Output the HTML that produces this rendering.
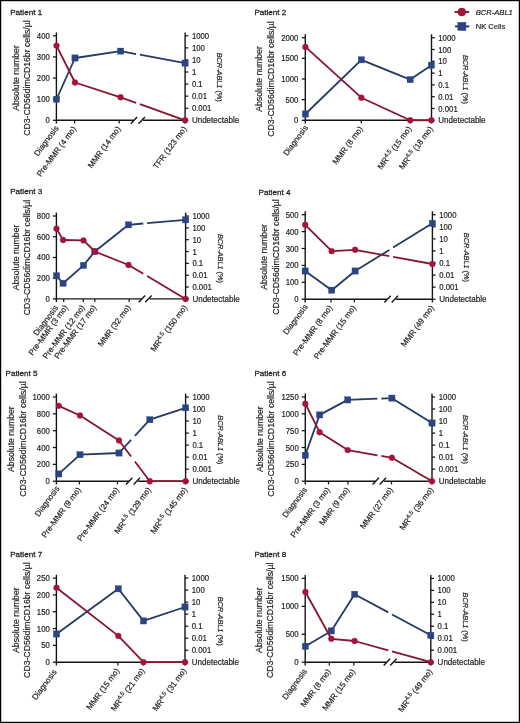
<!DOCTYPE html>
<html lang="en">
<head>
<meta charset="utf-8">
<title>NK cells and BCR-ABL1 by patient</title>
<style>
html,body{margin:0;padding:0;background:#fff;}
body{width:520px;height:723px;overflow:hidden;position:relative;}
svg{display:block;position:absolute;left:0;top:0;font-size:8.0px;}
.t{font-family:"Liberation Sans",Arial,Helvetica,sans-serif;fill:#231f20;stroke:#231f20;stroke-width:0.2px;}
.ax line{stroke:#171415;stroke-width:1.4;}
.ax line.tk{stroke-width:1.25;}
.frame{fill:none;stroke:#000;stroke-width:1.2;}
</style>
</head>
<body>
<svg width="520" height="723" viewBox="0 0 520 723">
<rect x="0" y="0" width="520" height="723" fill="#fff"/>
<g class="panel">
<text class="t" x="10.2" y="14.8" style="font-size:8.1px;stroke-width:0.28px">Patient 1</text>
<g class="ax">
<line x1="56.4" y1="32.4" x2="56.4" y2="123.5"/>
<line x1="185.1" y1="32.4" x2="185.1" y2="123.5"/>
<line x1="55.8" y1="120.3" x2="133.65" y2="120.3"/>
<line x1="142.95" y1="120.3" x2="185.7" y2="120.3"/>
<line x1="130.75" y1="123.65" x2="137.15" y2="116.95"/>
<line x1="138.55" y1="123.65" x2="144.95" y2="116.95"/>
<line class="tk" x1="52.8" y1="120.3" x2="56.4" y2="120.3"/>
<line class="tk" x1="52.8" y1="99.17" x2="56.4" y2="99.17"/>
<line class="tk" x1="52.8" y1="78.05" x2="56.4" y2="78.05"/>
<line class="tk" x1="52.8" y1="56.92" x2="56.4" y2="56.92"/>
<line class="tk" x1="52.8" y1="35.8" x2="56.4" y2="35.8"/>
<line class="tk" x1="185.1" y1="35.8" x2="188.3" y2="35.8"/>
<line class="tk" x1="185.1" y1="47.87" x2="188.3" y2="47.87"/>
<line class="tk" x1="185.1" y1="59.94" x2="188.3" y2="59.94"/>
<line class="tk" x1="185.1" y1="72.01" x2="188.3" y2="72.01"/>
<line class="tk" x1="185.1" y1="84.09" x2="188.3" y2="84.09"/>
<line class="tk" x1="185.1" y1="96.16" x2="188.3" y2="96.16"/>
<line class="tk" x1="185.1" y1="108.23" x2="188.3" y2="108.23"/>
<line class="tk" x1="185.1" y1="120.3" x2="188.3" y2="120.3"/>
<line class="tk" x1="74.6" y1="120.3" x2="74.6" y2="123.5"/>
<line class="tk" x1="119.2" y1="120.3" x2="119.2" y2="123.5"/>
</g>
<text class="t" text-anchor="end" transform="translate(49.8 123.3) scale(0.97 1.08)">0</text>
<text class="t" text-anchor="end" transform="translate(49.8 102.17) scale(0.97 1.08)">100</text>
<text class="t" text-anchor="end" transform="translate(49.8 81.05) scale(0.97 1.08)">200</text>
<text class="t" text-anchor="end" transform="translate(49.8 59.92) scale(0.97 1.08)">300</text>
<text class="t" text-anchor="end" transform="translate(49.8 38.8) scale(0.97 1.08)">400</text>
<text class="t" transform="translate(191.9 38.8) scale(0.97 1.08)">1000</text>
<text class="t" transform="translate(191.9 50.87) scale(0.97 1.08)">100</text>
<text class="t" transform="translate(191.9 62.94) scale(0.97 1.08)">10</text>
<text class="t" transform="translate(191.9 75.01) scale(0.97 1.08)">1</text>
<text class="t" transform="translate(191.9 87.09) scale(0.97 1.08)">0.1</text>
<text class="t" transform="translate(191.9 99.16) scale(0.97 1.08)">0.01</text>
<text class="t" transform="translate(191.9 111.23) scale(0.97 1.08)">0.001</text>
<text class="t" transform="translate(191.9 123.3) scale(1.005 1.08)">Undetectable</text>
<text class="t" text-anchor="middle" style="font-size:8.8px" transform="translate(18.5 78.05) rotate(-90) scale(0.988 1)">Absolute number</text>
<text class="t" text-anchor="middle" style="font-size:8.8px" transform="translate(29.9 78.05) rotate(-90) scale(0.988 1)">CD3-CD56dimCD16br cells/µl</text>
<text class="t" text-anchor="middle" style="font-size:7.8px" transform="translate(217.2 77.25) rotate(90) scale(0.935 1)"><tspan font-style="italic">BCR-ABL1</tspan> (%)</text>
<text class="t" text-anchor="end" style="font-size:8.1px" transform="translate(59.05 128.15) rotate(-53.5)">Diagnosis</text>
<text class="t" text-anchor="end" style="font-size:8.1px" transform="translate(76.5 128.9) rotate(-53.5)">Pre-MMR (4 mo)</text>
<text class="t" text-anchor="end" style="font-size:8.1px" transform="translate(121.1 128.9) rotate(-53.5)">MMR (14 mo)</text>
<text class="t" text-anchor="end" style="font-size:8.1px" transform="translate(187 128.9) rotate(-53.5)">TFR (123 mo)</text>
<g stroke="#243965" stroke-width="1.8" fill="none">
<line x1="56.5" y1="99.25" x2="75" y2="58"/>
<line x1="75" y1="58" x2="120.6" y2="51.15"/>
<line x1="120.6" y1="51.15" x2="136.1" y2="54.02"/>
<line x1="139.9" y1="54.73" x2="185.1" y2="63.1"/>
</g>
<g fill="#2b4583" stroke="#2b4583" stroke-width="0.3">
<rect x="53.35" y="96.1" width="6.3" height="6.3"/>
<rect x="71.85" y="54.85" width="6.3" height="6.3"/>
<rect x="117.45" y="48" width="6.3" height="6.3"/>
<rect x="181.95" y="59.95" width="6.3" height="6.3"/>
</g>
<g stroke="#88142f" stroke-width="1.8" fill="none">
<line x1="56.5" y1="45.6" x2="75" y2="82.5"/>
<line x1="75" y1="82.5" x2="120.6" y2="97.3"/>
<line x1="120.6" y1="97.3" x2="136.1" y2="102.83"/>
<line x1="139.9" y1="104.18" x2="185.1" y2="120.3"/>
</g>
<g fill="#a5123a" stroke="#a5123a" stroke-width="0.3">
<circle cx="56.5" cy="45.6" r="2.95"/>
<circle cx="75" cy="82.5" r="2.95"/>
<circle cx="120.6" cy="97.3" r="2.95"/>
<circle cx="185.1" cy="120.3" r="2.95"/>
</g>
</g>
<g class="panel">
<text class="t" x="254.4" y="14.8" style="font-size:8.1px;stroke-width:0.28px">Patient 2</text>
<g class="ax">
<line x1="305.3" y1="34.3" x2="305.3" y2="123.5"/>
<line x1="431.5" y1="34.3" x2="431.5" y2="123.5"/>
<line x1="304.7" y1="120.3" x2="432.1" y2="120.3"/>
<line class="tk" x1="301.7" y1="120.3" x2="305.3" y2="120.3"/>
<line class="tk" x1="301.7" y1="99.65" x2="305.3" y2="99.65"/>
<line class="tk" x1="301.7" y1="79" x2="305.3" y2="79"/>
<line class="tk" x1="301.7" y1="58.35" x2="305.3" y2="58.35"/>
<line class="tk" x1="301.7" y1="37.7" x2="305.3" y2="37.7"/>
<line class="tk" x1="431.5" y1="37.7" x2="434.7" y2="37.7"/>
<line class="tk" x1="431.5" y1="49.5" x2="434.7" y2="49.5"/>
<line class="tk" x1="431.5" y1="61.3" x2="434.7" y2="61.3"/>
<line class="tk" x1="431.5" y1="73.1" x2="434.7" y2="73.1"/>
<line class="tk" x1="431.5" y1="84.9" x2="434.7" y2="84.9"/>
<line class="tk" x1="431.5" y1="96.7" x2="434.7" y2="96.7"/>
<line class="tk" x1="431.5" y1="108.5" x2="434.7" y2="108.5"/>
<line class="tk" x1="431.5" y1="120.3" x2="434.7" y2="120.3"/>
<line class="tk" x1="361.3" y1="120.3" x2="361.3" y2="123.5"/>
<line class="tk" x1="410" y1="120.3" x2="410" y2="123.5"/>
</g>
<text class="t" text-anchor="end" transform="translate(298.4 123.3) scale(0.97 1.08)">0</text>
<text class="t" text-anchor="end" transform="translate(298.4 102.65) scale(0.97 1.08)">500</text>
<text class="t" text-anchor="end" transform="translate(298.4 82) scale(0.97 1.08)">1000</text>
<text class="t" text-anchor="end" transform="translate(298.4 61.35) scale(0.97 1.08)">1500</text>
<text class="t" text-anchor="end" transform="translate(298.4 40.7) scale(0.97 1.08)">2000</text>
<text class="t" transform="translate(438.3 40.7) scale(0.97 1.08)">1000</text>
<text class="t" transform="translate(438.3 52.5) scale(0.97 1.08)">100</text>
<text class="t" transform="translate(438.3 64.3) scale(0.97 1.08)">10</text>
<text class="t" transform="translate(438.3 76.1) scale(0.97 1.08)">1</text>
<text class="t" transform="translate(438.3 87.9) scale(0.97 1.08)">0.1</text>
<text class="t" transform="translate(438.3 99.7) scale(0.97 1.08)">0.01</text>
<text class="t" transform="translate(438.3 111.5) scale(0.97 1.08)">0.001</text>
<text class="t" transform="translate(438.3 123.3) scale(1.005 1.08)">Undetectable</text>
<text class="t" text-anchor="middle" style="font-size:8.8px" transform="translate(262.1 79) rotate(-90) scale(0.988 1)">Absolute number</text>
<text class="t" text-anchor="middle" style="font-size:8.8px" transform="translate(273.5 79) rotate(-90) scale(0.988 1)">CD3-CD56dimCD16br cells/µl</text>
<text class="t" text-anchor="middle" style="font-size:7.8px" transform="translate(462.8 79.4) rotate(90) scale(0.935 1)"><tspan font-style="italic">BCR-ABL1</tspan> (%)</text>
<text class="t" text-anchor="end" style="font-size:8.1px" transform="translate(308.3 127.8) rotate(-53.5)">Diagnosis</text>
<text class="t" text-anchor="end" style="font-size:8.1px" transform="translate(363.2 128.9) rotate(-53.5)">MMR (8 mo)</text>
<text class="t" text-anchor="end" style="font-size:8.1px" transform="translate(411.9 128.9) rotate(-53.5)">MR<tspan dy="-2.9" style="font-size:6px">4.5</tspan><tspan dy="2.9"> (15 mo)</tspan></text>
<text class="t" text-anchor="end" style="font-size:8.1px" transform="translate(433.4 128.9) rotate(-53.5)">MR<tspan dy="-2.9" style="font-size:6px">4.5</tspan><tspan dy="2.9"> (18 mo)</tspan></text>
<g stroke="#243965" stroke-width="1.8" fill="none">
<line x1="305.4" y1="114" x2="361.4" y2="59.8"/>
<line x1="361.4" y1="59.8" x2="410.2" y2="79.6"/>
<line x1="410.2" y1="79.6" x2="431.4" y2="65.2"/>
</g>
<g fill="#2b4583" stroke="#2b4583" stroke-width="0.3">
<rect x="302.25" y="110.85" width="6.3" height="6.3"/>
<rect x="358.25" y="56.65" width="6.3" height="6.3"/>
<rect x="407.05" y="76.45" width="6.3" height="6.3"/>
<rect x="428.25" y="62.05" width="6.3" height="6.3"/>
</g>
<g stroke="#88142f" stroke-width="1.8" fill="none">
<line x1="305.4" y1="46.9" x2="361.4" y2="97.7"/>
<line x1="361.4" y1="97.7" x2="410.2" y2="120.3"/>
<line x1="410.2" y1="120.3" x2="431.4" y2="120.3"/>
</g>
<g fill="#a5123a" stroke="#a5123a" stroke-width="0.3">
<circle cx="305.4" cy="46.9" r="2.95"/>
<circle cx="361.4" cy="97.7" r="2.95"/>
<circle cx="410.2" cy="120.3" r="2.95"/>
<circle cx="431.4" cy="120.3" r="2.95"/>
</g>
</g>
<g class="panel">
<text class="t" x="10.2" y="194.1" style="font-size:8.1px;stroke-width:0.28px">Patient 3</text>
<g class="ax">
<line x1="56.4" y1="212.6" x2="56.4" y2="302.1"/>
<line x1="185.6" y1="212.6" x2="185.6" y2="302.1"/>
<line x1="55.8" y1="298.9" x2="141.65" y2="298.9"/>
<line x1="149.65" y1="298.9" x2="186.2" y2="298.9"/>
<line x1="138.75" y1="302.25" x2="145.15" y2="295.55"/>
<line x1="145.25" y1="302.25" x2="151.65" y2="295.55"/>
<line class="tk" x1="52.8" y1="298.9" x2="56.4" y2="298.9"/>
<line class="tk" x1="52.8" y1="278.17" x2="56.4" y2="278.17"/>
<line class="tk" x1="52.8" y1="257.45" x2="56.4" y2="257.45"/>
<line class="tk" x1="52.8" y1="236.72" x2="56.4" y2="236.72"/>
<line class="tk" x1="52.8" y1="216" x2="56.4" y2="216"/>
<line class="tk" x1="185.6" y1="216" x2="188.8" y2="216"/>
<line class="tk" x1="185.6" y1="227.84" x2="188.8" y2="227.84"/>
<line class="tk" x1="185.6" y1="239.69" x2="188.8" y2="239.69"/>
<line class="tk" x1="185.6" y1="251.53" x2="188.8" y2="251.53"/>
<line class="tk" x1="185.6" y1="263.37" x2="188.8" y2="263.37"/>
<line class="tk" x1="185.6" y1="275.21" x2="188.8" y2="275.21"/>
<line class="tk" x1="185.6" y1="287.06" x2="188.8" y2="287.06"/>
<line class="tk" x1="185.6" y1="298.9" x2="188.8" y2="298.9"/>
<line class="tk" x1="63.7" y1="298.9" x2="63.7" y2="302.1"/>
<line class="tk" x1="83.3" y1="298.9" x2="83.3" y2="302.1"/>
<line class="tk" x1="94.8" y1="298.9" x2="94.8" y2="302.1"/>
<line class="tk" x1="129.2" y1="298.9" x2="129.2" y2="302.1"/>
</g>
<text class="t" text-anchor="end" transform="translate(49.8 301.9) scale(0.97 1.08)">0</text>
<text class="t" text-anchor="end" transform="translate(49.8 281.17) scale(0.97 1.08)">200</text>
<text class="t" text-anchor="end" transform="translate(49.8 260.45) scale(0.97 1.08)">400</text>
<text class="t" text-anchor="end" transform="translate(49.8 239.72) scale(0.97 1.08)">600</text>
<text class="t" text-anchor="end" transform="translate(49.8 219) scale(0.97 1.08)">800</text>
<text class="t" transform="translate(192.4 219) scale(0.97 1.08)">1000</text>
<text class="t" transform="translate(192.4 230.84) scale(0.97 1.08)">100</text>
<text class="t" transform="translate(192.4 242.69) scale(0.97 1.08)">10</text>
<text class="t" transform="translate(192.4 254.53) scale(0.97 1.08)">1</text>
<text class="t" transform="translate(192.4 266.37) scale(0.97 1.08)">0.1</text>
<text class="t" transform="translate(192.4 278.21) scale(0.97 1.08)">0.01</text>
<text class="t" transform="translate(192.4 290.06) scale(0.97 1.08)">0.001</text>
<text class="t" transform="translate(192.4 301.9) scale(1.005 1.08)">Undetectable</text>
<text class="t" text-anchor="middle" style="font-size:8.8px" transform="translate(18.5 257.45) rotate(-90) scale(0.988 1)">Absolute number</text>
<text class="t" text-anchor="middle" style="font-size:8.8px" transform="translate(29.9 257.45) rotate(-90) scale(0.988 1)">CD3-CD56dimCD16br cells/µl</text>
<text class="t" text-anchor="middle" style="font-size:7.8px" transform="translate(217.6 258.45) rotate(90) scale(0.935 1)"><tspan font-style="italic">BCR-ABL1</tspan> (%)</text>
<text class="t" text-anchor="end" style="font-size:8.1px" transform="translate(58.5 307.8) rotate(-53.5)">Diagnosis</text>
<text class="t" text-anchor="end" style="font-size:8.1px" transform="translate(68.4 307.5) rotate(-53.5)">Pre-MMR (3 mo)</text>
<text class="t" text-anchor="end" style="font-size:8.1px" transform="translate(85.2 307.5) rotate(-53.5)">Pre-MMR (12 mo)</text>
<text class="t" text-anchor="end" style="font-size:8.1px" transform="translate(96.7 307.5) rotate(-53.5)">Pre-MMR (17 mo)</text>
<text class="t" text-anchor="end" style="font-size:8.1px" transform="translate(131.1 307.5) rotate(-53.5)">MMR (32 mo)</text>
<text class="t" text-anchor="end" style="font-size:8.1px" transform="translate(187.5 307.5) rotate(-53.5)">MR<tspan dy="-2.9" style="font-size:6px">4.5</tspan><tspan dy="2.9"> (150 mo)</tspan></text>
<g stroke="#243965" stroke-width="1.8" fill="none">
<line x1="56.5" y1="275.8" x2="63.1" y2="283.3"/>
<line x1="63.1" y1="283.3" x2="83.5" y2="265.4"/>
<line x1="83.5" y1="265.4" x2="94.8" y2="251.5"/>
<line x1="94.8" y1="251.5" x2="128.5" y2="224.8"/>
<line x1="128.5" y1="224.8" x2="143.3" y2="223.5"/>
<line x1="147.1" y1="223.17" x2="185.6" y2="219.8"/>
</g>
<g fill="#2b4583" stroke="#2b4583" stroke-width="0.3">
<rect x="53.35" y="272.65" width="6.3" height="6.3"/>
<rect x="59.95" y="280.15" width="6.3" height="6.3"/>
<rect x="80.35" y="262.25" width="6.3" height="6.3"/>
<rect x="91.65" y="248.35" width="6.3" height="6.3"/>
<rect x="125.35" y="221.65" width="6.3" height="6.3"/>
<rect x="182.45" y="216.65" width="6.3" height="6.3"/>
</g>
<g stroke="#88142f" stroke-width="1.8" fill="none">
<line x1="56.5" y1="228.65" x2="63.1" y2="240"/>
<line x1="63.1" y1="240" x2="83.5" y2="240.4"/>
<line x1="83.5" y1="240.4" x2="94.8" y2="251.5"/>
<line x1="94.8" y1="251.5" x2="128.5" y2="265"/>
<line x1="128.5" y1="265" x2="143.3" y2="273.79"/>
<line x1="147.1" y1="276.04" x2="185.6" y2="298.9"/>
</g>
<g fill="#a5123a" stroke="#a5123a" stroke-width="0.3">
<circle cx="56.5" cy="228.65" r="2.95"/>
<circle cx="63.1" cy="240" r="2.95"/>
<circle cx="83.5" cy="240.4" r="2.95"/>
<circle cx="94.8" cy="251.5" r="2.95"/>
<circle cx="128.5" cy="265" r="2.95"/>
<circle cx="185.6" cy="298.9" r="2.95"/>
</g>
</g>
<g class="panel">
<text class="t" x="258.6" y="194.5" style="font-size:8.1px;stroke-width:0.28px">Patient 4</text>
<g class="ax">
<line x1="305.2" y1="211.3" x2="305.2" y2="302.4"/>
<line x1="432.4" y1="211.3" x2="432.4" y2="302.4"/>
<line x1="304.6" y1="299.2" x2="387.22" y2="299.2"/>
<line x1="396.07" y1="299.2" x2="433" y2="299.2"/>
<line x1="384.32" y1="302.55" x2="390.72" y2="295.85"/>
<line x1="391.68" y1="302.55" x2="398.07" y2="295.85"/>
<line class="tk" x1="301.6" y1="299.2" x2="305.2" y2="299.2"/>
<line class="tk" x1="301.6" y1="282.3" x2="305.2" y2="282.3"/>
<line class="tk" x1="301.6" y1="265.4" x2="305.2" y2="265.4"/>
<line class="tk" x1="301.6" y1="248.5" x2="305.2" y2="248.5"/>
<line class="tk" x1="301.6" y1="231.6" x2="305.2" y2="231.6"/>
<line class="tk" x1="301.6" y1="214.7" x2="305.2" y2="214.7"/>
<line class="tk" x1="432.4" y1="214.7" x2="435.6" y2="214.7"/>
<line class="tk" x1="432.4" y1="226.77" x2="435.6" y2="226.77"/>
<line class="tk" x1="432.4" y1="238.84" x2="435.6" y2="238.84"/>
<line class="tk" x1="432.4" y1="250.91" x2="435.6" y2="250.91"/>
<line class="tk" x1="432.4" y1="262.99" x2="435.6" y2="262.99"/>
<line class="tk" x1="432.4" y1="275.06" x2="435.6" y2="275.06"/>
<line class="tk" x1="432.4" y1="287.13" x2="435.6" y2="287.13"/>
<line class="tk" x1="432.4" y1="299.2" x2="435.6" y2="299.2"/>
<line class="tk" x1="331" y1="299.2" x2="331" y2="302.4"/>
<line class="tk" x1="354.4" y1="299.2" x2="354.4" y2="302.4"/>
</g>
<text class="t" text-anchor="end" transform="translate(298.6 302.2) scale(0.97 1.08)">0</text>
<text class="t" text-anchor="end" transform="translate(298.6 285.3) scale(0.97 1.08)">100</text>
<text class="t" text-anchor="end" transform="translate(298.6 268.4) scale(0.97 1.08)">200</text>
<text class="t" text-anchor="end" transform="translate(298.6 251.5) scale(0.97 1.08)">300</text>
<text class="t" text-anchor="end" transform="translate(298.6 234.6) scale(0.97 1.08)">400</text>
<text class="t" text-anchor="end" transform="translate(298.6 217.7) scale(0.97 1.08)">500</text>
<text class="t" transform="translate(439.2 217.7) scale(0.97 1.08)">1000</text>
<text class="t" transform="translate(439.2 229.77) scale(0.97 1.08)">100</text>
<text class="t" transform="translate(439.2 241.84) scale(0.97 1.08)">10</text>
<text class="t" transform="translate(439.2 253.91) scale(0.97 1.08)">1</text>
<text class="t" transform="translate(439.2 265.99) scale(0.97 1.08)">0.1</text>
<text class="t" transform="translate(439.2 278.06) scale(0.97 1.08)">0.01</text>
<text class="t" transform="translate(439.2 290.13) scale(0.97 1.08)">0.001</text>
<text class="t" transform="translate(439.2 302.2) scale(1.005 1.08)">Undetectable</text>
<text class="t" text-anchor="middle" style="font-size:8.8px" transform="translate(267.3 256.95) rotate(-90) scale(0.988 1)">Absolute number</text>
<text class="t" text-anchor="middle" style="font-size:8.8px" transform="translate(278.7 256.95) rotate(-90) scale(0.988 1)">CD3-CD56dimCD16br cells/µl</text>
<text class="t" text-anchor="middle" style="font-size:7.8px" transform="translate(463.7 257.35) rotate(90) scale(0.935 1)"><tspan font-style="italic">BCR-ABL1</tspan> (%)</text>
<text class="t" text-anchor="end" style="font-size:8.1px" transform="translate(308.2 306.7) rotate(-53.5)">Diagnosis</text>
<text class="t" text-anchor="end" style="font-size:8.1px" transform="translate(332.9 307.8) rotate(-53.5)">Pre-MMR (8 mo)</text>
<text class="t" text-anchor="end" style="font-size:8.1px" transform="translate(356.3 307.8) rotate(-53.5)">Pre-MMR (15 mo)</text>
<text class="t" text-anchor="end" style="font-size:8.1px" transform="translate(434.3 307.8) rotate(-53.5)">MMR (49 mo)</text>
<g stroke="#243965" stroke-width="1.8" fill="none">
<line x1="305.2" y1="271" x2="331.7" y2="290.2"/>
<line x1="331.7" y1="290.2" x2="355.1" y2="271"/>
<line x1="355.1" y1="271" x2="389.3" y2="249.9"/>
<line x1="393.1" y1="247.55" x2="432.4" y2="223.3"/>
</g>
<g fill="#2b4583" stroke="#2b4583" stroke-width="0.3">
<rect x="302.05" y="267.85" width="6.3" height="6.3"/>
<rect x="328.55" y="287.05" width="6.3" height="6.3"/>
<rect x="351.95" y="267.85" width="6.3" height="6.3"/>
<rect x="429.25" y="220.15" width="6.3" height="6.3"/>
</g>
<g stroke="#88142f" stroke-width="1.8" fill="none">
<line x1="305.2" y1="224.8" x2="331.7" y2="251.15"/>
<line x1="331.7" y1="251.15" x2="355.1" y2="249.8"/>
<line x1="355.1" y1="249.8" x2="389.3" y2="256.08"/>
<line x1="393.1" y1="256.78" x2="432.4" y2="264"/>
</g>
<g fill="#a5123a" stroke="#a5123a" stroke-width="0.3">
<circle cx="305.2" cy="224.8" r="2.95"/>
<circle cx="331.7" cy="251.15" r="2.95"/>
<circle cx="355.1" cy="249.8" r="2.95"/>
<circle cx="432.4" cy="264" r="2.95"/>
</g>
</g>
<g class="panel">
<text class="t" x="5.5" y="375.8" style="font-size:8.1px;stroke-width:0.28px">Patient 5</text>
<g class="ax">
<line x1="56.4" y1="393.6" x2="56.4" y2="484.4"/>
<line x1="185.6" y1="393.6" x2="185.6" y2="484.4"/>
<line x1="55.8" y1="481.2" x2="128.9" y2="481.2"/>
<line x1="138" y1="481.2" x2="186.2" y2="481.2"/>
<line x1="126" y1="484.55" x2="132.4" y2="477.85"/>
<line x1="133.6" y1="484.55" x2="140" y2="477.85"/>
<line class="tk" x1="52.8" y1="481.2" x2="56.4" y2="481.2"/>
<line class="tk" x1="52.8" y1="464.36" x2="56.4" y2="464.36"/>
<line class="tk" x1="52.8" y1="447.52" x2="56.4" y2="447.52"/>
<line class="tk" x1="52.8" y1="430.68" x2="56.4" y2="430.68"/>
<line class="tk" x1="52.8" y1="413.84" x2="56.4" y2="413.84"/>
<line class="tk" x1="52.8" y1="397" x2="56.4" y2="397"/>
<line class="tk" x1="185.6" y1="397" x2="188.8" y2="397"/>
<line class="tk" x1="185.6" y1="409.03" x2="188.8" y2="409.03"/>
<line class="tk" x1="185.6" y1="421.06" x2="188.8" y2="421.06"/>
<line class="tk" x1="185.6" y1="433.09" x2="188.8" y2="433.09"/>
<line class="tk" x1="185.6" y1="445.11" x2="188.8" y2="445.11"/>
<line class="tk" x1="185.6" y1="457.14" x2="188.8" y2="457.14"/>
<line class="tk" x1="185.6" y1="469.17" x2="188.8" y2="469.17"/>
<line class="tk" x1="185.6" y1="481.2" x2="188.8" y2="481.2"/>
<line class="tk" x1="79.4" y1="481.2" x2="79.4" y2="484.4"/>
<line class="tk" x1="117.5" y1="481.2" x2="117.5" y2="484.4"/>
<line class="tk" x1="149.5" y1="481.2" x2="149.5" y2="484.4"/>
</g>
<text class="t" text-anchor="end" transform="translate(49.8 484.2) scale(0.97 1.08)">0</text>
<text class="t" text-anchor="end" transform="translate(49.8 467.36) scale(0.97 1.08)">200</text>
<text class="t" text-anchor="end" transform="translate(49.8 450.52) scale(0.97 1.08)">400</text>
<text class="t" text-anchor="end" transform="translate(49.8 433.68) scale(0.97 1.08)">600</text>
<text class="t" text-anchor="end" transform="translate(49.8 416.84) scale(0.97 1.08)">800</text>
<text class="t" text-anchor="end" transform="translate(49.8 400) scale(0.97 1.08)">1000</text>
<text class="t" transform="translate(192.4 400) scale(0.97 1.08)">1000</text>
<text class="t" transform="translate(192.4 412.03) scale(0.97 1.08)">100</text>
<text class="t" transform="translate(192.4 424.06) scale(0.97 1.08)">10</text>
<text class="t" transform="translate(192.4 436.09) scale(0.97 1.08)">1</text>
<text class="t" transform="translate(192.4 448.11) scale(0.97 1.08)">0.1</text>
<text class="t" transform="translate(192.4 460.14) scale(0.97 1.08)">0.01</text>
<text class="t" transform="translate(192.4 472.17) scale(0.97 1.08)">0.001</text>
<text class="t" transform="translate(192.4 484.2) scale(1.005 1.08)">Undetectable</text>
<text class="t" text-anchor="middle" style="font-size:8.8px" transform="translate(14.1 439.1) rotate(-90) scale(0.988 1)">Absolute number</text>
<text class="t" text-anchor="middle" style="font-size:8.8px" transform="translate(25.5 439.1) rotate(-90) scale(0.988 1)">CD3-CD56dimCD16br cells/µl</text>
<text class="t" text-anchor="middle" style="font-size:7.8px" transform="translate(217.6 439.8) rotate(90) scale(0.935 1)"><tspan font-style="italic">BCR-ABL1</tspan> (%)</text>
<text class="t" text-anchor="end" style="font-size:8.1px" transform="translate(59.8 488.6) rotate(-53.5)">Diagnosis</text>
<text class="t" text-anchor="end" style="font-size:8.1px" transform="translate(81.3 489.8) rotate(-53.5)">Pre-MMR (9 mo)</text>
<text class="t" text-anchor="end" style="font-size:8.1px" transform="translate(119.4 489.8) rotate(-53.5)">Pre-MMR (24 mo)</text>
<text class="t" text-anchor="end" style="font-size:8.1px" transform="translate(151.4 489.8) rotate(-53.5)">MR<tspan dy="-2.9" style="font-size:6px">4.5</tspan><tspan dy="2.9"> (129 mo)</tspan></text>
<text class="t" text-anchor="end" style="font-size:8.1px" transform="translate(187.5 489.8) rotate(-53.5)">MR<tspan dy="-2.9" style="font-size:6px">4.5</tspan><tspan dy="2.9"> (145 mo)</tspan></text>
<g stroke="#243965" stroke-width="1.8" fill="none">
<line x1="58.8" y1="473.9" x2="80" y2="454.7"/>
<line x1="80" y1="454.7" x2="119" y2="453"/>
<line x1="119" y1="453" x2="131.1" y2="439.92"/>
<line x1="134.9" y1="435.81" x2="149.8" y2="419.7"/>
<line x1="149.8" y1="419.7" x2="185.6" y2="407.8"/>
</g>
<g fill="#2b4583" stroke="#2b4583" stroke-width="0.3">
<rect x="55.65" y="470.75" width="6.3" height="6.3"/>
<rect x="76.85" y="451.55" width="6.3" height="6.3"/>
<rect x="115.85" y="449.85" width="6.3" height="6.3"/>
<rect x="146.65" y="416.55" width="6.3" height="6.3"/>
<rect x="182.45" y="404.65" width="6.3" height="6.3"/>
</g>
<g stroke="#88142f" stroke-width="1.8" fill="none">
<line x1="58.8" y1="405.85" x2="80" y2="415.5"/>
<line x1="80" y1="415.5" x2="119" y2="440.5"/>
<line x1="119" y1="440.5" x2="131.1" y2="456.49"/>
<line x1="134.9" y1="461.51" x2="149.8" y2="481.2"/>
<line x1="149.8" y1="481.2" x2="185.6" y2="481.2"/>
</g>
<g fill="#a5123a" stroke="#a5123a" stroke-width="0.3">
<circle cx="58.8" cy="405.85" r="2.95"/>
<circle cx="80" cy="415.5" r="2.95"/>
<circle cx="119" cy="440.5" r="2.95"/>
<circle cx="149.8" cy="481.2" r="2.95"/>
<circle cx="185.6" cy="481.2" r="2.95"/>
</g>
</g>
<g class="panel">
<text class="t" x="254.4" y="375.8" style="font-size:8.1px;stroke-width:0.28px">Patient 6</text>
<g class="ax">
<line x1="305.3" y1="393.6" x2="305.3" y2="484.4"/>
<line x1="432" y1="393.6" x2="432" y2="484.4"/>
<line x1="304.7" y1="481.2" x2="375.5" y2="481.2"/>
<line x1="384.1" y1="481.2" x2="432.6" y2="481.2"/>
<line x1="372.6" y1="484.55" x2="379" y2="477.85"/>
<line x1="379.7" y1="484.55" x2="386.1" y2="477.85"/>
<line class="tk" x1="301.7" y1="481.2" x2="305.3" y2="481.2"/>
<line class="tk" x1="301.7" y1="464.36" x2="305.3" y2="464.36"/>
<line class="tk" x1="301.7" y1="447.52" x2="305.3" y2="447.52"/>
<line class="tk" x1="301.7" y1="430.68" x2="305.3" y2="430.68"/>
<line class="tk" x1="301.7" y1="413.84" x2="305.3" y2="413.84"/>
<line class="tk" x1="301.7" y1="397" x2="305.3" y2="397"/>
<line class="tk" x1="432" y1="397" x2="435.2" y2="397"/>
<line class="tk" x1="432" y1="409.03" x2="435.2" y2="409.03"/>
<line class="tk" x1="432" y1="421.06" x2="435.2" y2="421.06"/>
<line class="tk" x1="432" y1="433.09" x2="435.2" y2="433.09"/>
<line class="tk" x1="432" y1="445.11" x2="435.2" y2="445.11"/>
<line class="tk" x1="432" y1="457.14" x2="435.2" y2="457.14"/>
<line class="tk" x1="432" y1="469.17" x2="435.2" y2="469.17"/>
<line class="tk" x1="432" y1="481.2" x2="435.2" y2="481.2"/>
<line class="tk" x1="328.5" y1="481.2" x2="328.5" y2="484.4"/>
<line class="tk" x1="348" y1="481.2" x2="348" y2="484.4"/>
<line class="tk" x1="391.5" y1="481.2" x2="391.5" y2="484.4"/>
</g>
<text class="t" text-anchor="end" transform="translate(298.7 484.2) scale(0.97 1.08)">0</text>
<text class="t" text-anchor="end" transform="translate(298.7 467.36) scale(0.97 1.08)">250</text>
<text class="t" text-anchor="end" transform="translate(298.7 450.52) scale(0.97 1.08)">500</text>
<text class="t" text-anchor="end" transform="translate(298.7 433.68) scale(0.97 1.08)">750</text>
<text class="t" text-anchor="end" transform="translate(298.7 416.84) scale(0.97 1.08)">1000</text>
<text class="t" text-anchor="end" transform="translate(298.7 400) scale(0.97 1.08)">1250</text>
<text class="t" transform="translate(438.8 400) scale(0.97 1.08)">1000</text>
<text class="t" transform="translate(438.8 412.03) scale(0.97 1.08)">100</text>
<text class="t" transform="translate(438.8 424.06) scale(0.97 1.08)">10</text>
<text class="t" transform="translate(438.8 436.09) scale(0.97 1.08)">1</text>
<text class="t" transform="translate(438.8 448.11) scale(0.97 1.08)">0.1</text>
<text class="t" transform="translate(438.8 460.14) scale(0.97 1.08)">0.01</text>
<text class="t" transform="translate(438.8 472.17) scale(0.97 1.08)">0.001</text>
<text class="t" transform="translate(438.8 484.2) scale(1.005 1.08)">Undetectable</text>
<text class="t" text-anchor="middle" style="font-size:8.8px" transform="translate(263 439.1) rotate(-90) scale(0.988 1)">Absolute number</text>
<text class="t" text-anchor="middle" style="font-size:8.8px" transform="translate(274.4 439.1) rotate(-90) scale(0.988 1)">CD3-CD56dimCD16br cells/µl</text>
<text class="t" text-anchor="middle" style="font-size:7.8px" transform="translate(463.3 439.5) rotate(90) scale(0.935 1)"><tspan font-style="italic">BCR-ABL1</tspan> (%)</text>
<text class="t" text-anchor="end" style="font-size:8.1px" transform="translate(307.5 489.8) rotate(-53.5)">Diagnosis</text>
<text class="t" text-anchor="end" style="font-size:8.1px" transform="translate(330.4 489.8) rotate(-53.5)">Pre-MMR (3 mo)</text>
<text class="t" text-anchor="end" style="font-size:8.1px" transform="translate(349.9 489.8) rotate(-53.5)">MMR (9 mo)</text>
<text class="t" text-anchor="end" style="font-size:8.1px" transform="translate(393.4 489.8) rotate(-53.5)">MMR (27 mo)</text>
<text class="t" text-anchor="end" style="font-size:8.1px" transform="translate(433.9 489.8) rotate(-53.5)">MR<tspan dy="-2.9" style="font-size:6px">4.5</tspan><tspan dy="2.9"> (36 mo)</tspan></text>
<g stroke="#243965" stroke-width="1.8" fill="none">
<line x1="305.3" y1="455.3" x2="319.6" y2="414.9"/>
<line x1="319.6" y1="414.9" x2="347.7" y2="399.9"/>
<line x1="347.7" y1="399.9" x2="377.45" y2="398.72"/>
<line x1="381.25" y1="398.57" x2="391.9" y2="398.15"/>
<line x1="391.9" y1="398.15" x2="432" y2="423"/>
</g>
<g fill="#2b4583" stroke="#2b4583" stroke-width="0.3">
<rect x="302.15" y="452.15" width="6.3" height="6.3"/>
<rect x="316.45" y="411.75" width="6.3" height="6.3"/>
<rect x="344.55" y="396.75" width="6.3" height="6.3"/>
<rect x="388.75" y="395" width="6.3" height="6.3"/>
<rect x="428.85" y="419.85" width="6.3" height="6.3"/>
</g>
<g stroke="#88142f" stroke-width="1.8" fill="none">
<line x1="305.3" y1="403.7" x2="319.6" y2="432.2"/>
<line x1="319.6" y1="432.2" x2="347.7" y2="450.1"/>
<line x1="347.7" y1="450.1" x2="377.45" y2="455.28"/>
<line x1="381.25" y1="455.94" x2="391.9" y2="457.8"/>
<line x1="391.9" y1="457.8" x2="432" y2="481.2"/>
</g>
<g fill="#a5123a" stroke="#a5123a" stroke-width="0.3">
<circle cx="305.3" cy="403.7" r="2.95"/>
<circle cx="319.6" cy="432.2" r="2.95"/>
<circle cx="347.7" cy="450.1" r="2.95"/>
<circle cx="391.9" cy="457.8" r="2.95"/>
<circle cx="432" cy="481.2" r="2.95"/>
</g>
</g>
<g class="panel">
<text class="t" x="10.2" y="557.2" style="font-size:8.1px;stroke-width:0.28px">Patient 7</text>
<g class="ax">
<line x1="56.4" y1="574.7" x2="56.4" y2="665.4"/>
<line x1="185" y1="574.7" x2="185" y2="665.4"/>
<line x1="55.8" y1="662.2" x2="185.6" y2="662.2"/>
<line class="tk" x1="52.8" y1="662.2" x2="56.4" y2="662.2"/>
<line class="tk" x1="52.8" y1="645.38" x2="56.4" y2="645.38"/>
<line class="tk" x1="52.8" y1="628.56" x2="56.4" y2="628.56"/>
<line class="tk" x1="52.8" y1="611.74" x2="56.4" y2="611.74"/>
<line class="tk" x1="52.8" y1="594.92" x2="56.4" y2="594.92"/>
<line class="tk" x1="52.8" y1="578.1" x2="56.4" y2="578.1"/>
<line class="tk" x1="185" y1="578.1" x2="188.2" y2="578.1"/>
<line class="tk" x1="185" y1="590.11" x2="188.2" y2="590.11"/>
<line class="tk" x1="185" y1="602.13" x2="188.2" y2="602.13"/>
<line class="tk" x1="185" y1="614.14" x2="188.2" y2="614.14"/>
<line class="tk" x1="185" y1="626.16" x2="188.2" y2="626.16"/>
<line class="tk" x1="185" y1="638.17" x2="188.2" y2="638.17"/>
<line class="tk" x1="185" y1="650.19" x2="188.2" y2="650.19"/>
<line class="tk" x1="185" y1="662.2" x2="188.2" y2="662.2"/>
<line class="tk" x1="117.9" y1="662.2" x2="117.9" y2="665.4"/>
<line class="tk" x1="143.2" y1="662.2" x2="143.2" y2="665.4"/>
</g>
<text class="t" text-anchor="end" transform="translate(49.8 665.2) scale(0.97 1.08)">0</text>
<text class="t" text-anchor="end" transform="translate(49.8 648.38) scale(0.97 1.08)">50</text>
<text class="t" text-anchor="end" transform="translate(49.8 631.56) scale(0.97 1.08)">100</text>
<text class="t" text-anchor="end" transform="translate(49.8 614.74) scale(0.97 1.08)">150</text>
<text class="t" text-anchor="end" transform="translate(49.8 597.92) scale(0.97 1.08)">200</text>
<text class="t" text-anchor="end" transform="translate(49.8 581.1) scale(0.97 1.08)">250</text>
<text class="t" transform="translate(191.8 581.1) scale(0.97 1.08)">1000</text>
<text class="t" transform="translate(191.8 593.11) scale(0.97 1.08)">100</text>
<text class="t" transform="translate(191.8 605.13) scale(0.97 1.08)">10</text>
<text class="t" transform="translate(191.8 617.14) scale(0.97 1.08)">1</text>
<text class="t" transform="translate(191.8 629.16) scale(0.97 1.08)">0.1</text>
<text class="t" transform="translate(191.8 641.17) scale(0.97 1.08)">0.01</text>
<text class="t" transform="translate(191.8 653.19) scale(0.97 1.08)">0.001</text>
<text class="t" transform="translate(191.8 665.2) scale(1.005 1.08)">Undetectable</text>
<text class="t" text-anchor="middle" style="font-size:8.8px" transform="translate(18.5 620.15) rotate(-90) scale(0.988 1)">Absolute number</text>
<text class="t" text-anchor="middle" style="font-size:8.8px" transform="translate(29.9 620.15) rotate(-90) scale(0.988 1)">CD3-CD56dimCD16br cells/µl</text>
<text class="t" text-anchor="middle" style="font-size:7.8px" transform="translate(217.5 621.25) rotate(90) scale(0.935 1)"><tspan font-style="italic">BCR-ABL1</tspan> (%)</text>
<text class="t" text-anchor="end" style="font-size:8.1px" transform="translate(57.05 672.05) rotate(-53.5)">Diagnosis</text>
<text class="t" text-anchor="end" style="font-size:8.1px" transform="translate(119.8 670.8) rotate(-53.5)">MMR (15 mo)</text>
<text class="t" text-anchor="end" style="font-size:8.1px" transform="translate(145.1 670.8) rotate(-53.5)">MR<tspan dy="-2.9" style="font-size:6px">4.5</tspan><tspan dy="2.9"> (21 mo)</tspan></text>
<text class="t" text-anchor="end" style="font-size:8.1px" transform="translate(186.9 670.8) rotate(-53.5)">MR<tspan dy="-2.9" style="font-size:6px">4.5</tspan><tspan dy="2.9"> (31 mo)</tspan></text>
<g stroke="#243965" stroke-width="1.8" fill="none">
<line x1="56.5" y1="634" x2="118.3" y2="588.8"/>
<line x1="118.3" y1="588.8" x2="143.5" y2="620.9"/>
<line x1="143.5" y1="620.9" x2="185" y2="607"/>
</g>
<g fill="#2b4583" stroke="#2b4583" stroke-width="0.3">
<rect x="53.35" y="630.85" width="6.3" height="6.3"/>
<rect x="115.15" y="585.65" width="6.3" height="6.3"/>
<rect x="140.35" y="617.75" width="6.3" height="6.3"/>
<rect x="181.85" y="603.85" width="6.3" height="6.3"/>
</g>
<g stroke="#88142f" stroke-width="1.8" fill="none">
<line x1="56.5" y1="587.8" x2="118.3" y2="635.9"/>
<line x1="118.3" y1="635.9" x2="143.5" y2="662.2"/>
<line x1="143.5" y1="662.2" x2="185" y2="662.2"/>
</g>
<g fill="#a5123a" stroke="#a5123a" stroke-width="0.3">
<circle cx="56.5" cy="587.8" r="2.95"/>
<circle cx="118.3" cy="635.9" r="2.95"/>
<circle cx="143.5" cy="662.2" r="2.95"/>
<circle cx="185" cy="662.2" r="2.95"/>
</g>
</g>
<g class="panel">
<text class="t" x="254.4" y="557.4" style="font-size:8.1px;stroke-width:0.28px">Patient 8</text>
<g class="ax">
<line x1="305.2" y1="575" x2="305.2" y2="665.4"/>
<line x1="430.8" y1="575" x2="430.8" y2="665.4"/>
<line x1="304.6" y1="662.2" x2="386.6" y2="662.2"/>
<line x1="394.6" y1="662.2" x2="431.4" y2="662.2"/>
<line x1="383.7" y1="665.55" x2="390.1" y2="658.85"/>
<line x1="390.2" y1="665.55" x2="396.6" y2="658.85"/>
<line class="tk" x1="301.6" y1="662.2" x2="305.2" y2="662.2"/>
<line class="tk" x1="301.6" y1="634.27" x2="305.2" y2="634.27"/>
<line class="tk" x1="301.6" y1="606.33" x2="305.2" y2="606.33"/>
<line class="tk" x1="301.6" y1="578.4" x2="305.2" y2="578.4"/>
<line class="tk" x1="430.8" y1="578.4" x2="434" y2="578.4"/>
<line class="tk" x1="430.8" y1="590.37" x2="434" y2="590.37"/>
<line class="tk" x1="430.8" y1="602.34" x2="434" y2="602.34"/>
<line class="tk" x1="430.8" y1="614.31" x2="434" y2="614.31"/>
<line class="tk" x1="430.8" y1="626.29" x2="434" y2="626.29"/>
<line class="tk" x1="430.8" y1="638.26" x2="434" y2="638.26"/>
<line class="tk" x1="430.8" y1="650.23" x2="434" y2="650.23"/>
<line class="tk" x1="430.8" y1="662.2" x2="434" y2="662.2"/>
<line class="tk" x1="329.3" y1="662.2" x2="329.3" y2="665.4"/>
<line class="tk" x1="353.8" y1="662.2" x2="353.8" y2="665.4"/>
</g>
<text class="t" text-anchor="end" transform="translate(298.6 665.2) scale(0.97 1.08)">0</text>
<text class="t" text-anchor="end" transform="translate(298.6 637.27) scale(0.97 1.08)">500</text>
<text class="t" text-anchor="end" transform="translate(298.6 609.33) scale(0.97 1.08)">1000</text>
<text class="t" text-anchor="end" transform="translate(298.6 581.4) scale(0.97 1.08)">1500</text>
<text class="t" transform="translate(437.6 581.4) scale(0.97 1.08)">1000</text>
<text class="t" transform="translate(437.6 593.37) scale(0.97 1.08)">100</text>
<text class="t" transform="translate(437.6 605.34) scale(0.97 1.08)">10</text>
<text class="t" transform="translate(437.6 617.31) scale(0.97 1.08)">1</text>
<text class="t" transform="translate(437.6 629.29) scale(0.97 1.08)">0.1</text>
<text class="t" transform="translate(437.6 641.26) scale(0.97 1.08)">0.01</text>
<text class="t" transform="translate(437.6 653.23) scale(0.97 1.08)">0.001</text>
<text class="t" transform="translate(437.6 665.2) scale(1.005 1.08)">Undetectable</text>
<text class="t" text-anchor="middle" style="font-size:8.8px" transform="translate(262 620.3) rotate(-90) scale(0.988 1)">Absolute number</text>
<text class="t" text-anchor="middle" style="font-size:8.8px" transform="translate(273.4 620.3) rotate(-90) scale(0.988 1)">CD3-CD56dimCD16br cells/µl</text>
<text class="t" text-anchor="middle" style="font-size:7.8px" transform="translate(463.1 617.1) rotate(90) scale(0.935 1)"><tspan font-style="italic">BCR-ABL1</tspan> (%)</text>
<text class="t" text-anchor="end" style="font-size:8.1px" transform="translate(307.4 671.6) rotate(-53.5)">Diagnosis</text>
<text class="t" text-anchor="end" style="font-size:8.1px" transform="translate(331.2 671.6) rotate(-53.5)">MMR (8 mo)</text>
<text class="t" text-anchor="end" style="font-size:8.1px" transform="translate(355.7 671.6) rotate(-53.5)">MMR (15 mo)</text>
<text class="t" text-anchor="end" style="font-size:8.1px" transform="translate(432.7 671.6) rotate(-53.5)">MR<tspan dy="-2.9" style="font-size:6px">4.5</tspan><tspan dy="2.9"> (49 mo)</tspan></text>
<g stroke="#243965" stroke-width="1.8" fill="none">
<line x1="305.4" y1="646.3" x2="331.3" y2="630.9"/>
<line x1="331.3" y1="630.9" x2="354.6" y2="594.3"/>
<line x1="354.6" y1="594.3" x2="388.25" y2="612.41"/>
<line x1="392.05" y1="614.45" x2="430.8" y2="635.3"/>
</g>
<g fill="#2b4583" stroke="#2b4583" stroke-width="0.3">
<rect x="302.25" y="643.15" width="6.3" height="6.3"/>
<rect x="328.15" y="627.75" width="6.3" height="6.3"/>
<rect x="351.45" y="591.15" width="6.3" height="6.3"/>
<rect x="427.65" y="632.15" width="6.3" height="6.3"/>
</g>
<g stroke="#88142f" stroke-width="1.8" fill="none">
<line x1="305.4" y1="592" x2="331.3" y2="638.8"/>
<line x1="331.3" y1="638.8" x2="354.6" y2="641"/>
<line x1="354.6" y1="641" x2="388.25" y2="650.36"/>
<line x1="392.05" y1="651.42" x2="430.8" y2="662.2"/>
</g>
<g fill="#a5123a" stroke="#a5123a" stroke-width="0.3">
<circle cx="305.4" cy="592" r="2.95"/>
<circle cx="331.3" cy="638.8" r="2.95"/>
<circle cx="354.6" cy="641" r="2.95"/>
<circle cx="430.8" cy="662.2" r="2.95"/>
</g>
</g>
<g class="legend"><line x1="454.5" y1="12" x2="469.2" y2="12" stroke="#88142f" stroke-width="1.9"/><circle cx="461.8" cy="12" r="3.95" fill="#a5123a" stroke="#88142f" stroke-width="0.5"/>
<text class="t" x="475.7" y="14.6" font-style="italic" style="font-size:7.6px">BCR-ABL1</text>
<line x1="455" y1="26.4" x2="469.4" y2="26.4" stroke="#243965" stroke-width="1.9"/><rect x="457.9" y="22.4" width="8" height="8" fill="#2b4583" stroke="#243965" stroke-width="0.5"/>
<text class="t" x="475.7" y="29" style="font-size:7.6px">NK Cells</text></g>
<rect class="frame" x="0.6" y="0.6" width="518.8" height="721.8"/>
</svg>
</body>
</html>
